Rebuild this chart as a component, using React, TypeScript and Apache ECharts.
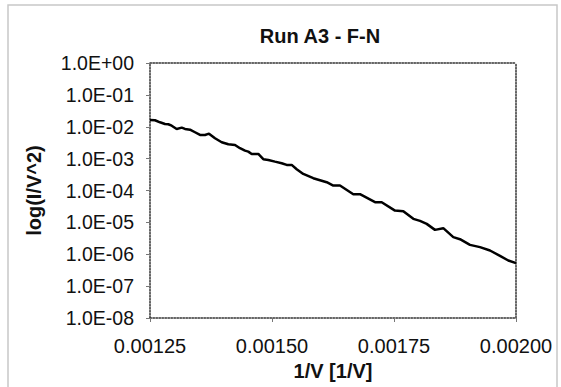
import React, { useEffect, useRef } from "react";
import * as echarts from "echarts";

const titleText = "Run A3 - F-N";
const xAxisName = "1/V [1/V]";
const yAxisName = "log(I/V^2)";

const invV = [
  0.00125, 0.0012602, 0.0012705, 0.0012807, 0.0012875, 0.0012945, 0.0013047, 0.001315,
  0.0013217, 0.001332, 0.0013422, 0.0013525, 0.0013627, 0.0013709, 0.0013832, 0.0013969,
  0.0014105, 0.0014242, 0.0014344, 0.0014447, 0.0014514, 0.0014584, 0.0014719, 0.0014822,
  0.0014924, 0.0015061, 0.0015199, 0.0015301, 0.0015404, 0.0015506, 0.0015641, 0.0015846,
  0.0016121, 0.0016256, 0.0016393, 0.0016666, 0.0016803, 0.0017111, 0.0017248, 0.001752,
  0.0017691, 0.0017896, 0.0018033, 0.001817, 0.001834, 0.001851, 0.0018715, 0.0018852,
  0.0019057, 0.0019262, 0.0019467, 0.0019672, 0.0019842, 0.002,
];

const iOverV2 = [
  1.63e-2, 1.6e-2, 1.38e-2, 1.22e-2, 1.2e-2, 1.08e-2, 8.53e-3, 9.37e-3,
  8.53e-3, 8.11e-3, 6.72e-3, 5.53e-3, 5.53e-3, 6.08e-3, 4.36e-3, 3.27e-3,
  2.83e-3, 2.69e-3, 2.12e-3, 1.78e-3, 1.66e-3, 1.4e-3, 1.4e-3, 9.57e-4,
  9.1e-4, 8.05e-4, 7.18e-4, 6.35e-4, 6.35e-4, 4.66e-4, 3.31e-4, 2.43e-4,
  1.82e-4, 1.43e-4, 1.43e-4, 7.66e-5, 7.66e-5, 4.3e-5, 4.3e-5, 2.34e-5,
  2.24e-5, 1.29e-5, 1.11e-5, 8.97e-6, 5.82e-6, 6.57e-6, 3.44e-6, 2.97e-6,
  1.97e-6, 1.67e-6, 1.31e-6, 8.91e-7, 6.35e-7, 5.26e-7,
];

const xTicks = [0.00125, 0.0015, 0.00175, 0.002];

const FONT = "'Liberation Sans', Arial, sans-serif";

function sci(v: number): string {
  const e = Math.round(Math.log10(v));
  const sign = e < 0 ? "-" : "+";
  const a = Math.abs(e);
  return "1.0E" + sign + (a < 10 ? "0" + a : String(a));
}

export default function App() {
  const ref = useRef<HTMLDivElement>(null);
  useEffect(() => {
    if (!ref.current) return;
    const chart = echarts.init(ref.current, undefined, { renderer: "svg" });
    const border = { show: true, lineStyle: { color: "#333", width: 1.5, type: "dotted" as const } };
    chart.setOption({
      animation: false,
      backgroundColor: "#fff",
      title: {
        text: titleText,
        left: 315,
        top: 21,
        textAlign: "center",
        textStyle: { fontFamily: FONT, fontSize: 20, fontWeight: "bold", color: "#111" },
      },
      graphic: [
        {
          type: "rect",
          shape: { x: 8, y: 5, width: 549, height: 400 },
          style: { fill: "none", stroke: "#c8c8c8", lineWidth: 1.5 },
          silent: true,
        },
      ],
      grid: { left: 150, right: 45, top: 63, bottom: 69, containLabel: false },
      xAxis: [
        {
          type: "value",
          min: xTicks[0],
          max: xTicks[xTicks.length - 1],
          interval: 0.00025,
          axisLine: border,
          axisTick: { show: true, inside: false, length: 4, lineStyle: { color: "#777" } },
          splitLine: { show: false },
          axisLabel: {
            fontFamily: FONT,
            fontSize: 20,
            color: "#111",
            margin: 18,
            formatter: (v: number) => v.toFixed(5),
          },
          name: xAxisName,
          nameLocation: "middle",
          nameGap: 39,
          nameTextStyle: { fontFamily: FONT, fontSize: 20, fontWeight: "bold", color: "#111" },
        },
        {
          type: "value",
          position: "top",
          min: xTicks[0],
          max: xTicks[xTicks.length - 1],
          axisLine: border,
          axisTick: { show: false },
          axisLabel: { show: false },
          splitLine: { show: false },
        },
      ],
      yAxis: [
        {
          type: "log",
          logBase: 10,
          min: 1e-8,
          max: 1,
          interval: 1,
          axisLine: border,
          axisTick: { show: true, inside: false, length: 4, lineStyle: { color: "#777" } },
          splitLine: { show: false },
          minorTick: { show: false },
          axisLabel: {
            fontFamily: FONT,
            fontSize: 19.5,
            color: "#111",
            margin: 16,
            formatter: (v: number) => sci(v),
          },
          name: yAxisName,
          nameLocation: "middle",
          nameGap: 106,
          nameRotate: 90,
          nameTextStyle: { fontFamily: FONT, fontSize: 20, fontWeight: "bold", color: "#111" },
        },
        {
          type: "log",
          position: "right",
          min: 1e-8,
          max: 1,
          axisLine: border,
          axisTick: { show: false },
          axisLabel: { show: false },
          splitLine: { show: false },
        },
      ],
      series: [
        {
          type: "line",
          xAxisIndex: 0,
          yAxisIndex: 0,
          data: invV.map((x, i) => [x, iOverV2[i]]),
          showSymbol: false,
          symbol: "none",
          lineStyle: { color: "#000", width: 2.5 },
        },
      ],
    });
    return () => chart.dispose();
  }, []);
  return (
    <div
      ref={ref}
      style={{ position: "fixed", left: 0, top: 0, width: 561, height: 387, background: "#fff" }}
    />
  );
}
